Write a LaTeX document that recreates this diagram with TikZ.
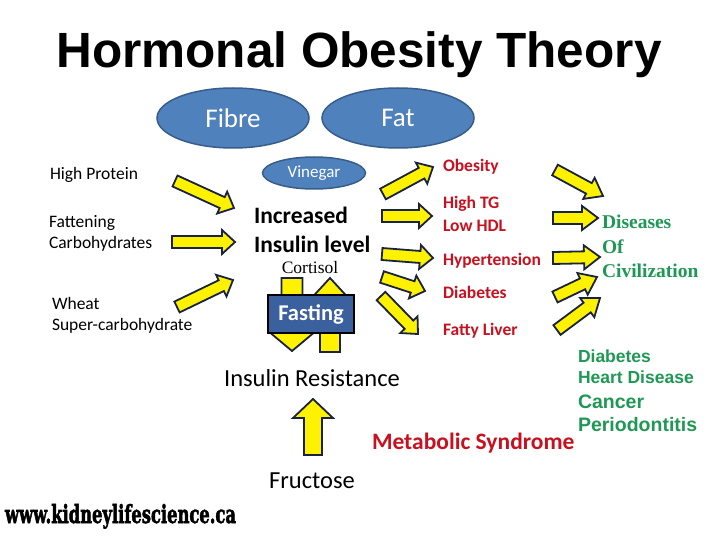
\documentclass[tikz,border=0pt]{standalone}
\usepackage{fontspec}
\usetikzlibrary{calc,shapes.geometric}
\setmainfont{Carlito}
\newfontfamily\arialf{Liberation Sans}
\newfontfamily\timesf{Liberation Serif}
\newfontfamily\webf[BoldFeatures={FakeBold=2.5}]{DejaVu Serif}
\definecolor{ellblue}{RGB}{79,129,189}
\definecolor{ellborder}{RGB}{56,93,138}
\definecolor{fastblue}{RGB}{58,96,158}
\definecolor{arrowline}{RGB}{25,35,65}
\definecolor{txtred}{RGB}{200,16,30}
\definecolor{txtgreen}{RGB}{30,152,84}
\tikzset{
  barrow/.style={draw=arrowline, fill=yellow, line width=1.8pt, line join=miter},
  bubble/.style={ellipse, fill=ellblue, draw=ellborder, line width=1.5pt, text=white},
  lbl/.style={anchor=base west, font=\fontsize{17.5}{17.5}\selectfont},
  redlbl/.style={anchor=base west, text=txtred, font=\bfseries\fontsize{17.5}{17.5}\selectfont},
  grnlbl/.style={anchor=base west, text=txtgreen, font=\arialf\bfseries\fontsize{17.5}{17.5}\selectfont},
  civlbl/.style={anchor=base west, text=txtgreen, font=\timesf\bfseries\fontsize{19.5}{19.5}\selectfont},
  biglbl/.style={anchor=base, font=\fontsize{24.5}{24.5}\selectfont}
}
\newcommand\blockarrow[5]{%
  \draw[barrow] let \p1=(#1), \p2=(#2), \p3=($(\p2)!#5!(\p1)$) in
    ($(\p1)!#3!90:(\p2)$) -- ($(\p3)!#3!90:(\p2)$) -- ($(\p3)!#4!90:(\p2)$) -- (\p2)
    -- ($(\p3)!#4!-90:(\p2)$) -- ($(\p3)!#3!-90:(\p2)$) -- ($(\p1)!#3!-90:(\p2)$) -- cycle;}
\begin{document}
\begin{tikzpicture}[x=1pt,y=-1pt, every node/.style={inner sep=0pt, outer sep=0pt}]
\useasboundingbox (0,0) rectangle (720,540);
\fill[white] (0,0) rectangle (720,540);

% title
\node[anchor=base, font=\arialf\bfseries\fontsize{49.5}{49.5}\selectfont] (title) at (359,68) {Hormonal Obesity Theory};

% ellipses
\node[bubble, minimum width=152pt, minimum height=60pt, font=\fontsize{27}{27}\selectfont] (fibre) at (233,118) {Fibre};
\node[bubble, minimum width=152pt, minimum height=60pt, font=\fontsize{27}{27}\selectfont] (fat) at (398,118) {Fat};
\node[bubble, minimum width=103pt, minimum height=32pt, font=\fontsize{17}{17}\selectfont] (vinegar) at (314,173) {Vinegar};

% left labels
\node[lbl] (protein) at (50,180) {High Protein};
\node[lbl] (fatten) at (49,227) {Fattening};
\node[lbl] (carbs) at (49,248) {Carbohydrates};
\node[lbl] (wheat) at (52,309) {Wheat};
\node[lbl] (super) at (52,330) {Super-carbohydrate};

% left arrows
\blockarrow{175,181}{234,208}{6pt}{12pt}{13pt}
\blockarrow{172,242}{235,242}{6pt}{12pt}{13pt}
\blockarrow{177,307}{233,280}{6pt}{12pt}{13pt}

% center
\node[anchor=base west, font=\bfseries\fontsize{23.5}{23.5}\selectfont] (incr) at (254,224) {Increased};
\node[anchor=base west, font=\bfseries\fontsize{23.5}{23.5}\selectfont] (inslev) at (254,252) {Insulin level};
\node[anchor=base, font=\timesf\fontsize{17.5}{17.5}\selectfont] (cortisol) at (310,273) {Cortisol};

% fasting arrows
\blockarrow{292,278}{292,351}{10.5pt}{21.5pt}{18pt}
\blockarrow{330,352}{330,278}{10pt}{17.5pt}{19pt}
\node[draw=black, fill=fastblue, line width=2.5pt, minimum width=86pt, minimum height=38pt, text=white, font=\bfseries\fontsize{22.5}{22.5}\selectfont] (fasting) at (311,314) {Fasting};

% right center arrows
\blockarrow{383,194}{433,167}{6pt}{12pt}{13pt}
\blockarrow{382,216}{432,216}{6pt}{12pt}{13pt}
\blockarrow{382,254}{433,258}{6pt}{12pt}{13pt}
\blockarrow{382,277}{425,291}{6pt}{12pt}{13pt}
\blockarrow{381,296}{418,334}{6pt}{12pt}{13pt}

% red labels
\node[redlbl] (obesity) at (443,172) {Obesity};
\node[redlbl] (hightg) at (443,208) {High TG};
\node[redlbl] (lowhdl) at (443,231) {Low HDL};
\node[redlbl] (hyper) at (443,265) {Hypertension};
\node[redlbl] (diab) at (443,298) {Diabetes};
\node[redlbl] (liver) at (443,335) {Fatty Liver};

% far right arrows
\blockarrow{555,170}{603,196}{6pt}{12pt}{16pt}
\blockarrow{553,218}{598,218}{6pt}{12pt}{16pt}
\blockarrow{553,258}{600,257}{6pt}{12pt}{16pt}
\blockarrow{555,297}{597,277}{6pt}{12pt}{16pt}
\blockarrow{557,330}{600,298}{6pt}{12pt}{16pt}

% diseases of civilization
\node[civlbl] (dis) at (602,229) {Diseases};
\node[civlbl] (of) at (602,253) {Of};
\node[civlbl] (civ) at (602,277) {Civilization};

% bottom
\node[biglbl] (insres) at (312,386) {Insulin Resistance};
\blockarrow{313,455}{313,399}{9pt}{20pt}{19pt}
\node[biglbl] (fructose) at (312,488) {Fructose};
\node[anchor=base west, text=txtred, font=\bfseries\fontsize{23.5}{23.5}\selectfont] (metab) at (372,449) {Metabolic Syndrome};

\node[grnlbl] (gdiab) at (578,362) {Diabetes};
\node[grnlbl] (heart) at (578,383) {Heart Disease};
\node[grnlbl, font=\arialf\bfseries\fontsize{19.5}{19.5}\selectfont] (cancer) at (578,408) {Cancer};
\node[grnlbl, font=\arialf\bfseries\fontsize{19.5}{19.5}\selectfont] (perio) at (578,431) {Periodontitis};

% website
\node[anchor=base west] (web) at (5,523) {\resizebox{231pt}{19pt}{\webf\bfseries www.kidneylifescience.ca}};
\end{tikzpicture}
\end{document}
